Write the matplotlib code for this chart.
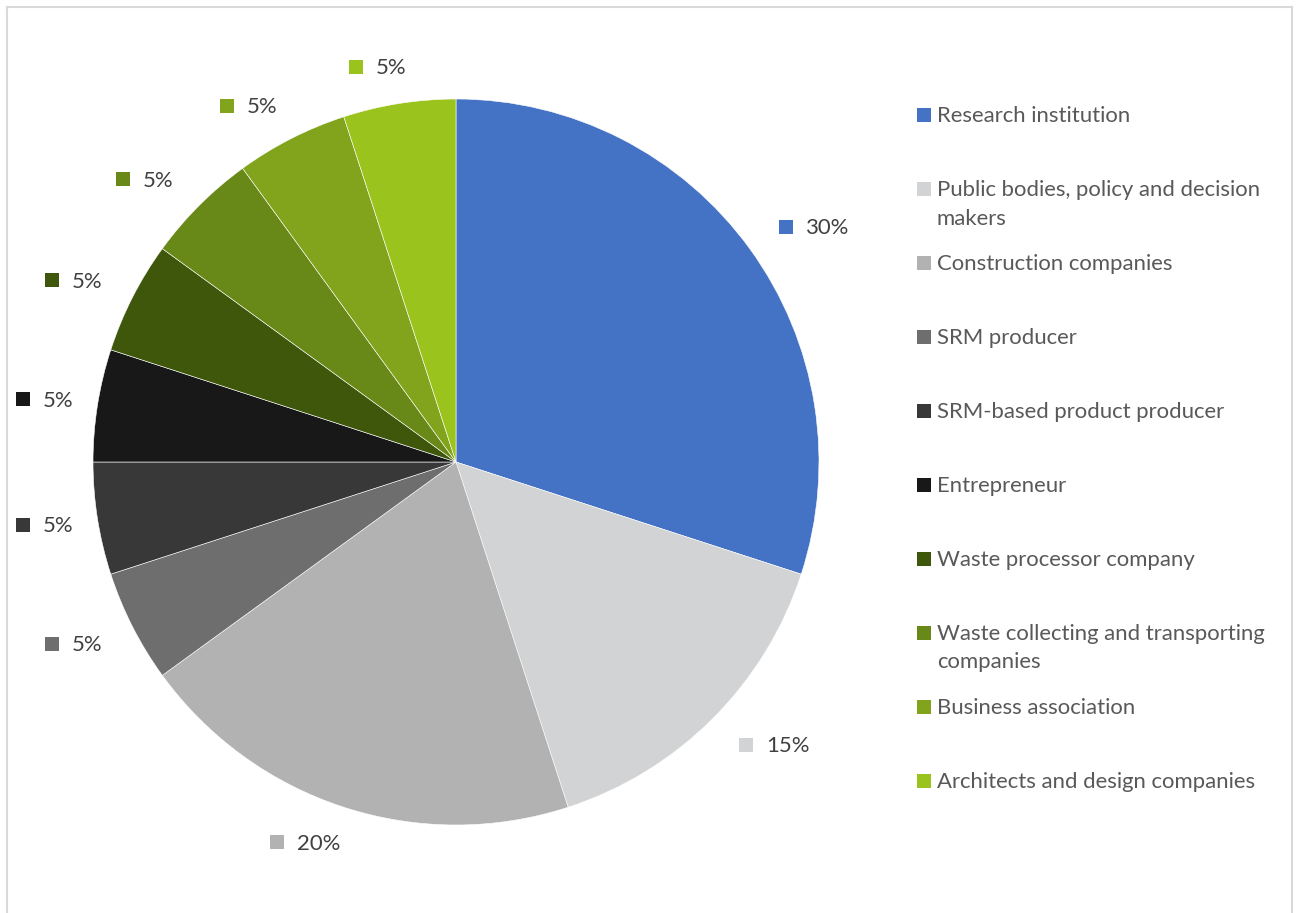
import textwrap

import matplotlib
matplotlib.use("Agg")
import matplotlib.pyplot as plt
from matplotlib.lines import Line2D
import numpy as np

# ---- data -------------------------------------------------------------
categories = [
    "Research institution",
    "Public bodies, policy and decision makers",
    "Construction companies",
    "SRM producer",
    "SRM-based product producer",
    "Entrepreneur",
    "Waste processor company",
    "Waste collecting and transporting companies",
    "Business association",
    "Architects and design companies",
]
shares = [30, 15, 20, 5, 5, 5, 5, 5, 5, 5]
colors = [
    "#4472C4", "#D2D3D5", "#B2B2B2", "#6E6E6E", "#383838",
    "#181818", "#3E570B", "#688817", "#81A41C", "#9BC31E",
]

# ---- layout (pixel units, y measured from the top) ----------------------
W, H = 1298, 913
FONT = "Lato"
FS = 15.9
PIE_CX, PIE_CY, PIE_R = 456, 462, 363
LABEL_R = 400          # radius of the circle the data labels sit on
MARK_PX = 14
LEG_MARK_X, LEG_TEXT_X = 924, 937
LEG_TOP, LEG_STEP, LEG_LINE = 115, 74, 29


def Y(y):
    return H - y


fig = plt.figure(figsize=(W / 100, H / 100), dpi=100)
ax = fig.add_axes([0, 0, 1, 1])

wedges, _ = ax.pie(
    shares,
    colors=colors,
    startangle=90,
    counterclock=False,
    center=(PIE_CX, Y(PIE_CY)),
    radius=PIE_R,
    wedgeprops=dict(edgecolor="white", linewidth=0.4),
    frame=True,
)
ax.set_xlim(0, W)
ax.set_ylim(0, H)
ax.axis("off")

renderer = fig.canvas.get_renderer()
ms = MARK_PX * 72 / 100

# percentage labels outside each wedge
for wedge, v, c in zip(wedges, shares, colors):
    mid = np.deg2rad((wedge.theta1 + wedge.theta2) / 2)
    t = ax.text(0, 0, f"{v}%", fontsize=FS, family=FONT, color="#404040",
                ha="left", va="baseline")
    tw = t.get_window_extent(renderer).width
    half_w = (MARK_PX / 2 + 20 + tw) / 2
    push = half_w * np.sqrt(abs(np.sin(2 * mid)))
    gx = PIE_CX + LABEL_R * np.cos(mid) + np.sign(np.cos(mid)) * push
    gy = Y(PIE_CY) + LABEL_R * np.sin(mid)
    mx = gx - half_w + MARK_PX / 2
    ax.plot(mx, gy, marker="s", ms=ms, color=c, mew=0, linestyle="none")
    t.set_position((mx + 20, gy - 7.5))

# legend on the right
for i, (name, c) in enumerate(zip(categories, colors)):
    row_y = LEG_TOP + i * LEG_STEP
    ax.plot(LEG_MARK_X, Y(row_y), marker="s", ms=ms, color=c, mew=0,
            linestyle="none")
    for k, line in enumerate(textwrap.wrap(name, 34)):
        ax.text(LEG_TEXT_X, Y(row_y + 6.5 + k * LEG_LINE), line, fontsize=FS,
                family=FONT, color="#595959", ha="left", va="baseline")

# chart area border (left, top, right)
bc = "#D9D9D9"
x0, x1, y0 = 7 / W, 1292 / W, 1 - 7 / H
for xs, ys in (([x0, x0], [0, y0]), ([x0, x1], [y0, y0]), ([x1, x1], [y0, 0])):
    fig.add_artist(Line2D(xs, ys, transform=fig.transFigure, color=bc, lw=1.5))

fig.savefig("out.png", dpi=100)
